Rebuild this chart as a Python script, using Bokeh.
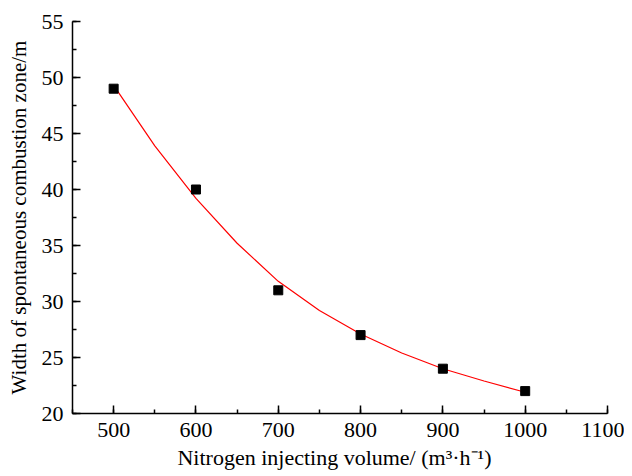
from bokeh.plotting import figure
from bokeh.models import Range1d, SingleIntervalTicker
from bokeh.embed import file_html
from bokeh.resources import INLINE

# measured data
volume = [500, 600, 700, 800, 900, 1000]
width = [49, 40, 31, 27, 24, 22]

# fitted curve
fit_x = [500, 550, 600, 650, 700, 750, 800, 850, 900, 950, 1000]
fit_y = [49.3, 43.9, 39.2, 35.2, 31.8, 29.2, 27.1, 25.4, 24.0, 22.9, 21.9]

FONT = "Liberation Serif"

p = figure(width=624, height=475, output_backend="svg", toolbar_location=None,
           x_range=Range1d(450, 1100), y_range=Range1d(20, 55),
           min_border_left=72, min_border_right=17, min_border_top=21, min_border_bottom=62)
p.outline_line_color = None
p.grid.visible = False
p.background_fill_color = "white"

p.line(fit_x, fit_y, line_color="red", line_width=1.2)
p.scatter(volume, width, marker="square", size=9, color="black")

for ax in (p.xaxis[0], p.yaxis[0]):
    ax.axis_line_color = "black"
    ax.axis_line_width = 1.5
    ax.major_tick_line_width = 1.5
    ax.minor_tick_line_width = 1.5
    ax.major_tick_in = 8
    ax.major_tick_out = 0
    ax.minor_tick_in = 4
    ax.minor_tick_out = 0
    ax.major_label_text_font = FONT
    ax.major_label_text_font_size = "22px"
    ax.major_label_text_color = "black"
    ax.axis_label_text_font = FONT
    ax.axis_label_text_font_style = "normal"
    ax.axis_label_text_color = "black"

p.xaxis.axis_label_text_font_size = "22px"
p.yaxis.axis_label_text_font_size = "21px"
p.xaxis.ticker = SingleIntervalTicker(interval=100, num_minor_ticks=2)
p.yaxis.ticker = SingleIntervalTicker(interval=5, num_minor_ticks=2)
p.xaxis.major_label_standoff = 9
p.yaxis.major_label_standoff = 9
p.xaxis.axis_label = "Nitrogen injecting volume/   (m\u00b3\u00b7h\u207b\u00b9)"
p.yaxis.axis_label = "Width of spontaneous combustion zone/m"
p.xaxis.axis_label_standoff = 5
p.yaxis.axis_label_standoff = 8

open("out.html", "w").write(file_html(p, INLINE))
